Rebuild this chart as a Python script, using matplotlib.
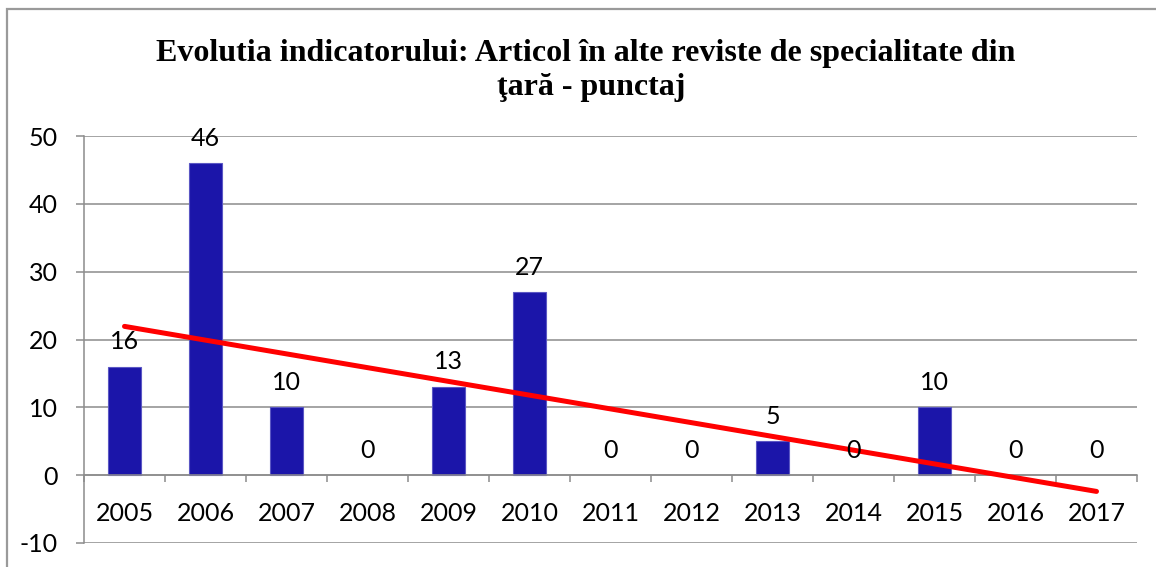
import numpy as np
import matplotlib
matplotlib.use("Agg")
import matplotlib.pyplot as plt
from matplotlib.patches import Rectangle
from matplotlib.ticker import FixedLocator

years = ["2005", "2006", "2007", "2008", "2009", "2010", "2011",
         "2012", "2013", "2014", "2015", "2016", "2017"]
punctaj = [16, 46, 10, 0, 13, 27, 0, 0, 5, 0, 10, 0, 0]
y_ticks = [-10, 0, 10, 20, 30, 40, 50]

BAR = "#1B15A9"; BAR_EDGE = "#5B57C4"; GRID = "#8C8C8C"; TREND = "#FF0000"
LBL = "Lato"; FS = 18

plt.rcParams["axes.unicode_minus"] = False

W, H = 1156, 567
fig = plt.figure(figsize=(W / 100, H / 100), dpi=100)
fig.patch.set_facecolor("white")

# chart frame (runs off the right and bottom edges)
fig.patches.append(Rectangle((7 / W, -0.05), 1.2, (H - 9) / H + 0.05,
                             transform=fig.transFigure, fill=False,
                             ec="#9A9A9A", lw=1.6))

ax = fig.add_axes([84 / W, (H - 543) / H, (1137 - 84) / W, (543 - 136) / H])
x = np.arange(len(years))
edges = [BAR_EDGE if v else "none" for v in punctaj]
ax.bar(x, punctaj, width=0.4, color=BAR, edgecolor=edges, lw=0.8, zorder=2)

for xi, v in zip(x, punctaj):
    ax.annotate(str(v), (xi, v), xytext=(0, 18), textcoords="offset points",
                ha="center", va="center", fontsize=FS, family=LBL, color="black",
                zorder=4)

# linear trend over the series
k, b = np.polyfit(x, punctaj, 1)
ax.plot([x[0], x[-1]], [k * x[0] + b, k * x[-1] + b], color=TREND, lw=3.6,
        solid_capstyle="round", zorder=3)

ax.set_xlim(-0.5, len(years) - 0.5)
ax.set_ylim(-10, 50)
ax.set_yticks(y_ticks)
ax.yaxis.grid(True, color=GRID, lw=1.1, zorder=0)
ax.set_axisbelow(True)

for s in ["top", "right"]:
    ax.spines[s].set_visible(False)
ax.spines["left"].set_color(GRID)
ax.spines["left"].set_linewidth(1.1)
ax.spines["bottom"].set_position(("data", 0))
ax.spines["bottom"].set_color(GRID)
ax.spines["bottom"].set_linewidth(1.1)

ax.set_xticks(x)
ax.set_xticklabels(years)
ax.xaxis.set_minor_locator(FixedLocator(np.arange(-0.5, len(years), 1.0)))
ax.tick_params(axis="x", which="major", length=0, pad=19.5, labelsize=FS)
ax.tick_params(axis="x", which="minor", length=5, width=1.1, color=GRID, direction="out")
ax.tick_params(axis="y", length=6, width=1.1, color=GRID, pad=13, labelsize=FS)
for t in ax.get_xticklabels() + ax.get_yticklabels():
    t.set_family(LBL)

fig.text(586 / W, 1 - 61 / H, "Evolutia indicatorului: Articol în alte reviste de specialitate din",
         ha="center", va="baseline", family="Liberation Serif", fontweight="bold", fontsize=23)
fig.text(591 / W, 1 - 95 / H, "ţară - punctaj",
         ha="center", va="baseline", family="Liberation Serif", fontweight="bold", fontsize=23)

fig.savefig("out.png", dpi=100)
